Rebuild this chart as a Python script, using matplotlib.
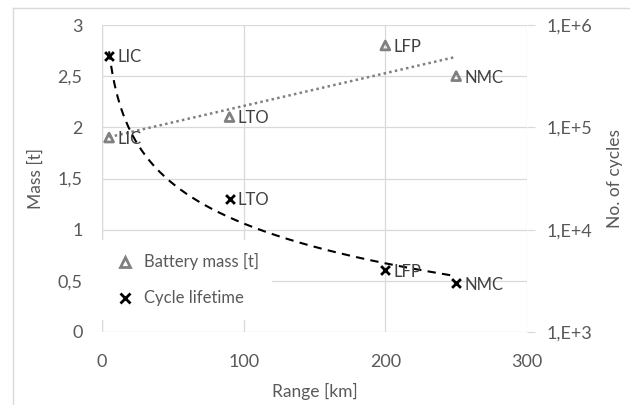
import numpy as np
import matplotlib.pyplot as plt
from matplotlib.lines import Line2D

plt.rcParams["font.family"] = ["Lato", "DejaVu Sans"]

# data
chemistries = ["LIC", "LTO", "LFP", "NMC"]
range_km = [5, 90, 200, 250]
battery_mass = [1.9, 2.1, 2.8, 2.5]
cycle_life = [5.0e5, 2.0e4, 4.0e3, 3.0e3]

mass_ticks = [0, 0.5, 1, 1.5, 2, 2.5, 3]
mass_labels = ["0", "0,5", "1", "1,5", "2", "2,5", "3"]
cycle_ticks = [1e3, 1e4, 1e5, 1e6]
cycle_labels = ["1,E+3", "1,E+4", "1,E+5", "1,E+6"]
range_ticks = [0, 100, 200, 300]

text_grey = "#595959"
grid_grey = "#d9d9d9"
tri_grey = "#808080"
fs = 12         # legend and point labels
fs_tick = 13
fs_lab = 12.5

fig = plt.figure(figsize=(6.3, 4.05), dpi=100)
ax = fig.add_axes([102 / 630, 1 - 332 / 405, 425 / 630, 307 / 405])
ax2 = ax.twinx()

# figure border (only left and top visible in the original)
fig.add_artist(Line2D([13 / 630, 13 / 630], [0, 1 - 8 / 405], transform=fig.transFigure,
                      color=grid_grey, lw=1))
fig.add_artist(Line2D([13 / 630, 1], [1 - 8 / 405, 1 - 8 / 405], transform=fig.transFigure,
                      color=grid_grey, lw=1))

# axes styling
ax.set_xlim(0, 300)
ax.set_ylim(0, 3)
ax.set_xticks(range_ticks)
ax.set_yticks(mass_ticks)
ax.set_yticklabels(mass_labels)
ax.grid(True, color=grid_grey, lw=0.9)
ax.set_axisbelow(True)
for s in ax.spines.values():
    s.set_visible(False)
for s in ax2.spines.values():
    s.set_visible(False)
ax.tick_params(axis="both", length=0, colors=text_grey, labelsize=fs_tick)
ax.tick_params(axis="x", pad=16)
ax.tick_params(axis="y", pad=14)
ax.axvline(0, color=grid_grey, lw=0.9, zorder=0)

ax2.set_yscale("log")
ax2.set_ylim(1e3, 1e6)
ax2.set_yticks(cycle_ticks)
ax2.set_yticklabels(cycle_labels)
ax2.minorticks_off()
ax2.tick_params(axis="y", length=6, color=grid_grey, colors=text_grey,
                labelsize=fs_tick, pad=8)

ax.set_xlabel("Range [km]", color=text_grey, fontsize=fs_lab, labelpad=9)
ax.set_ylabel("Mass [t]", color=text_grey, fontsize=fs_lab, labelpad=10)
ax2.set_ylabel("No. of cycles", color=text_grey, fontsize=fs_lab, labelpad=11)

# linear trend of battery mass
xr = np.array(range_km, dtype=float)
k, b = np.polyfit(xr, battery_mass, 1)
xl = np.array([xr.min(), xr.max()])
ax.plot(xl, k * xl + b, ls=(0, (1, 1.3)), color=tri_grey, lw=1.8, zorder=2)

# power trend of cycle life
pk, pb = np.polyfit(np.log10(xr), np.log10(cycle_life), 1)
xc = np.linspace(xr.min(), xr.max(), 200)
ax2.plot(xc, 10 ** (pb + pk * np.log10(xc)), ls=(0, (4, 3)), color="black", lw=1.5, zorder=2)

# markers
ax.scatter(range_km, battery_mass, marker="^", s=40, facecolor="none",
           edgecolor=tri_grey, linewidth=2, zorder=3)
ax2.scatter(range_km, cycle_life, marker="x", s=40, color="black", linewidth=2, zorder=3)

for name, x, m, c in zip(chemistries, range_km, battery_mass, cycle_life):
    ax.annotate(name, (x, m), xytext=(6, -1), textcoords="offset points",
                va="center", ha="left", color="#404040", fontsize=fs, zorder=4)
    ax2.annotate(name, (x, c), xytext=(6, -1), textcoords="offset points",
                 va="center", ha="left", color="#404040", fontsize=fs, zorder=4)

handles = [
    Line2D([], [], marker="^", ls="none", markersize=7, markerfacecolor="none",
           markeredgecolor=tri_grey, markeredgewidth=2),
    Line2D([], [], marker="x", ls="none", markersize=7, color="black", markeredgewidth=2),
]
leg = ax2.legend(handles, ["Battery mass [t]", "Cycle lifetime"], loc="lower left",
                 bbox_to_anchor=(0.0, 0.04), frameon=True, fancybox=False,
                 edgecolor="none", facecolor="white", framealpha=1, fontsize=fs,
                 labelspacing=1.2, handletextpad=0.5, handlelength=1.2,
                 borderpad=0.8, borderaxespad=0)
leg.set_zorder(1.5)  # keep the trend curves on top of the legend box
for t in leg.get_texts():
    t.set_color(text_grey)

fig.savefig("out.png", dpi=100)
